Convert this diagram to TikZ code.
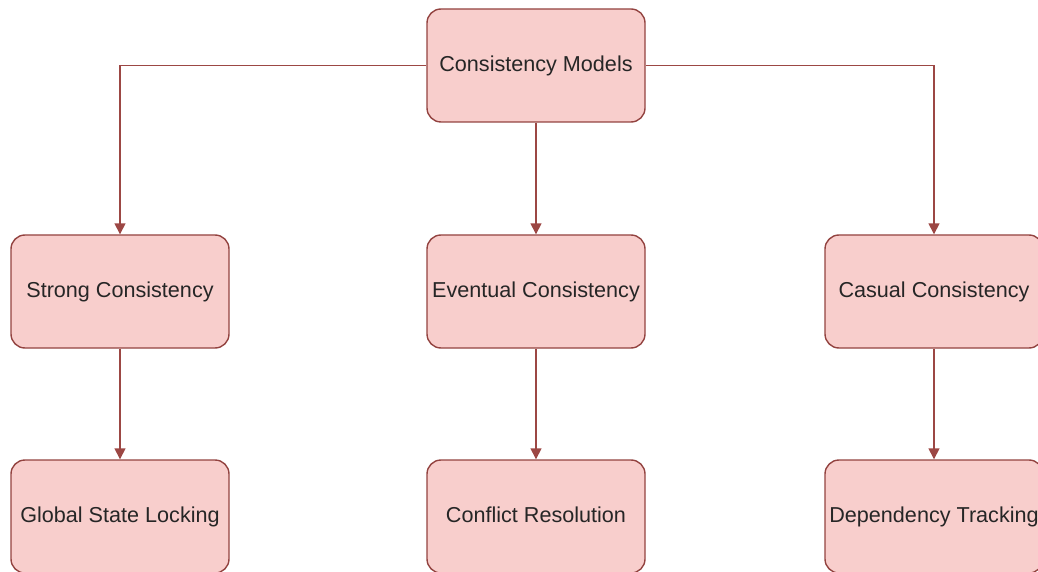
\documentclass[tikz,border=0pt]{standalone}
\usepackage{fontspec}
\setmainfont{Liberation Sans}
\usetikzlibrary{arrows.meta}
\definecolor{boxfill}{HTML}{F8CECC}
\definecolor{boxline}{HTML}{B85450}
\tikzset{
  box/.style={draw=boxline!80!black,fill=boxfill,rounded corners=7pt,line width=0.7pt,
              minimum width=109pt,minimum height=56.5pt,inner sep=0pt,text=black!85,
              text height=1.6ex,text depth=0.45ex,
              font=\fontsize{10.8}{13}\selectfont},
  link/.style={draw=boxline!85!black,line width=0.75pt,-{Triangle[length=5.5pt,width=5.5pt]}}
}
\begin{document}
\begin{tikzpicture}[x=0.5pt,y=-0.5pt]
   \useasboundingbox (0,0) rectangle (1038,572);
   \node[box] (models)   at (536,65.5)  {Consistency Models};
   \node[box] (strong)   at (120,291.5) {Strong Consistency};
   \node[box] (eventual) at (536,291.5) {Eventual Consistency};
   \node[box] (casual)   at (934,291.5) {Casual Consistency};
   \node[box] (locking)  at (120,516.5) {Global State Locking};
   \node[box] (conflict) at (536,516.5) {Conflict Resolution};
   \node[box] (tracking) at (934,516.5) {Dependency Tracking};
   \draw[link] (models.west) -| (strong.north);
   \draw[link] (models) -- (eventual);
   \draw[link] (models.east) -| (casual.north);
   \draw[link] (strong) -- (locking);
   \draw[link] (eventual) -- (conflict);
   \draw[link] (casual) -- (tracking);
\end{tikzpicture}
\end{document}
